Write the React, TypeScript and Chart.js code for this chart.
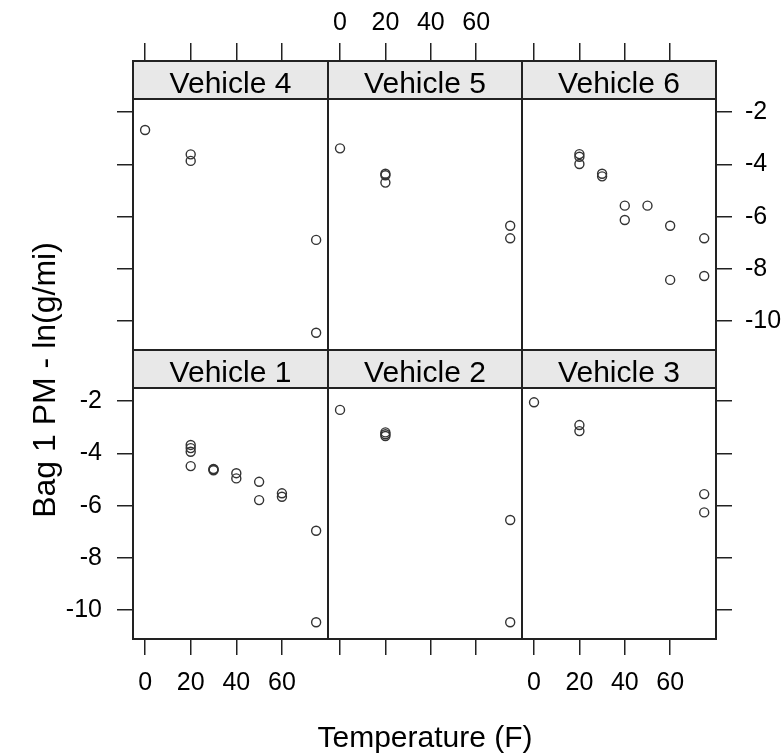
import React, { useEffect, useRef } from 'react';
import { Chart, registerables } from 'chart.js';
Chart.register(...registerables);

// ---- data (Temperature in F, Bag 1 PM in ln(g/mi)) ----
const V1_TEMP = [20, 20, 20, 20, 30, 30, 30, 40, 40, 50, 50, 60, 60, 75, 75];
const V1_PM = [-3.68, -3.8, -3.94, -4.49, -4.6, -4.62, -4.65, -4.76, -4.96, -5.09, -5.79, -5.53, -5.66, -6.96, -10.46];

const V2_TEMP = [0, 20, 20, 20, 75, 75];
const V2_PM = [-2.34, -3.2, -3.27, -3.34, -6.55, -10.46];

const V3_TEMP = [0, 20, 20, 75, 75];
const V3_PM = [-2.05, -2.92, -3.15, -5.56, -6.26];

const V4_TEMP = [0, 20, 20, 75, 75];
const V4_PM = [-2.69, -3.62, -3.87, -6.89, -10.44];

const V5_TEMP = [0, 20, 20, 20, 75, 75];
const V5_PM = [-3.39, -4.36, -4.42, -4.7, -6.35, -6.83];

const V6_TEMP = [20, 20, 20, 30, 30, 40, 40, 50, 60, 60, 75, 75];
const V6_PM = [-3.61, -3.71, -3.99, -4.36, -4.46, -5.58, -6.13, -5.58, -6.35, -8.42, -6.83, -8.27];

const X_TICKS = [0, 20, 40, 60];
const Y_TICKS = [-2, -4, -6, -8, -10];
const X_MIN = -5.3;
const X_MAX = 80.2;
const Y_MIN = -11.1;
const Y_MAX = -0.05;

const X_TITLE = 'Temperature (F)';
const Y_TITLE = 'Bag 1 PM - ln(g/mi)';

// ---- layout ----
const W = 782;
const H = 755;
const COL_EDGES = [133, 328, 522, 716];
const ROW_EDGES = [[61, 350], [350, 639]];
const STRIP_H = 38;
const AX_LEFT = 110;
const AX_RIGHT = 66;
const AX_TOP = 61;
const AX_BOTTOM = 70;
const FONT = "'Liberation Sans', Arial, Helvetica, sans-serif";
const INK = '#222';

const PANELS = [
  { name: 'Vehicle 4', temps: V4_TEMP, pm: V4_PM, row: 0, col: 0 },
  { name: 'Vehicle 5', temps: V5_TEMP, pm: V5_PM, row: 0, col: 1 },
  { name: 'Vehicle 6', temps: V6_TEMP, pm: V6_PM, row: 0, col: 2 },
  { name: 'Vehicle 1', temps: V1_TEMP, pm: V1_PM, row: 1, col: 0 },
  { name: 'Vehicle 2', temps: V2_TEMP, pm: V2_PM, row: 1, col: 1 },
  { name: 'Vehicle 3', temps: V3_TEMP, pm: V3_PM, row: 1, col: 2 },
];

type PanelDef = (typeof PANELS)[number];

function makeChart(canvas: HTMLCanvasElement, p: PanelDef) {
  const left = COL_EDGES[p.col];
  const right = COL_EDGES[p.col + 1];
  const [top, bottom] = ROW_EDGES[p.row];

  const stripPlugin = {
    id: 'stripFrame',
    beforeDatasetsDraw(chart: any) {
      const { ctx, chartArea: a } = chart;
      ctx.save();
      ctx.fillStyle = '#e8e8e8';
      ctx.fillRect(a.left, a.top, a.right - a.left, STRIP_H);
      ctx.strokeStyle = INK;
      ctx.lineWidth = 2;
      ctx.beginPath();
      ctx.moveTo(a.left, a.top + STRIP_H);
      ctx.lineTo(a.right, a.top + STRIP_H);
      ctx.stroke();
      ctx.strokeRect(a.left, a.top, a.right - a.left, a.bottom - a.top);
      ctx.fillStyle = '#000';
      ctx.font = `30px ${FONT}`;
      ctx.textAlign = 'center';
      ctx.textBaseline = 'alphabetic';
      ctx.fillText(p.name, (a.left + a.right) / 2, a.top + 32);
      ctx.restore();
    },
  };

  const tickFont = { family: FONT, size: 25 };
  const gridOpts = (show: boolean, len: number) => ({
    display: show,
    drawOnChartArea: false,
    drawTicks: true,
    tickLength: len,
    color: INK,
    lineWidth: 1.5,
  });
  const xBuild = (s: any) => {
    s.ticks = X_TICKS.map((v) => ({ value: v }));
  };
  const yBuild = (s: any) => {
    s.ticks = Y_TICKS.map((v) => ({ value: v }));
  };

  return new Chart(canvas, {
    type: 'scatter',
    data: {
      datasets: [
        {
          data: p.temps.map((t, i) => ({ x: t, y: p.pm[i] })),
          showLine: false,
          pointStyle: 'circle',
          pointRadius: 4.5,
          pointBorderWidth: 1.4,
          pointBackgroundColor: 'rgba(0,0,0,0)',
          pointBorderColor: '#333',
        },
      ],
    },
    options: {
      responsive: false,
      animation: false,
      devicePixelRatio: 1,
      layout: {
        autoPadding: false,
        padding: {
          left: left - AX_LEFT,
          right: W - right - AX_RIGHT,
          top: top - AX_TOP,
          bottom: H - bottom - AX_BOTTOM,
        },
      },
      plugins: {
        legend: { display: false },
        tooltip: { enabled: false },
        title: { display: false },
      },
      scales: {
        x: {
          type: 'linear',
          position: 'bottom',
          min: X_MIN,
          max: X_MAX,
          afterBuildTicks: xBuild,
          afterFit: (s: any) => {
            s.height = AX_BOTTOM;
          },
          grid: gridOpts(p.row === 1, 16),
          border: { display: false },
          ticks: {
            display: p.row === 1 && p.col !== 1,
            padding: 13,
            color: '#000',
            font: tickFont,
            maxRotation: 0,
            autoSkip: false,
          },
        },
        x2: {
          type: 'linear',
          position: 'top',
          min: X_MIN,
          max: X_MAX,
          afterBuildTicks: xBuild,
          afterFit: (s: any) => {
            s.height = AX_TOP;
          },
          grid: gridOpts(p.row === 0, 18),
          border: { display: false },
          ticks: {
            display: p.row === 0 && p.col === 1,
            padding: 5,
            color: '#000',
            font: tickFont,
            maxRotation: 0,
            autoSkip: false,
          },
        },
        y: {
          type: 'linear',
          position: 'left',
          min: Y_MIN,
          max: Y_MAX,
          afterBuildTicks: yBuild,
          afterFit: (s: any) => {
            s.width = AX_LEFT;
          },
          grid: gridOpts(p.col === 0, 16),
          border: { display: false },
          ticks: {
            display: p.col === 0 && p.row === 1,
            padding: 15,
            color: '#000',
            font: tickFont,
            autoSkip: false,
          },
        },
        y2: {
          type: 'linear',
          position: 'right',
          min: Y_MIN,
          max: Y_MAX,
          afterBuildTicks: yBuild,
          afterFit: (s: any) => {
            s.width = AX_RIGHT;
          },
          grid: gridOpts(p.col === 2, 16),
          border: { display: false },
          ticks: {
            display: p.col === 2 && p.row === 0,
            padding: 13,
            color: '#000',
            font: tickFont,
            autoSkip: false,
          },
        },
      },
    } as any,
    plugins: [stripPlugin],
  });
}

export default function App() {
  const refs = useRef<(HTMLCanvasElement | null)[]>([]);

  useEffect(() => {
    const charts = PANELS.map((p, i) => makeChart(refs.current[i] as HTMLCanvasElement, p));
    return () => charts.forEach((c) => c.destroy());
  }, []);

  return (
    <div
      style={{
        position: 'absolute',
        left: 0,
        top: 0,
        width: W,
        height: H,
        background: '#fff',
        overflow: 'hidden',
        fontFamily: FONT,
      }}
    >
      {PANELS.map((p, i) => (
        <canvas
          key={p.name}
          ref={(el) => {
            refs.current[i] = el;
          }}
          width={W}
          height={H}
          style={{ position: 'absolute', left: 0, top: 0 }}
        />
      ))}
      <div
        style={{
          position: 'absolute',
          left: 225,
          width: 400,
          top: 722,
          height: 30,
          lineHeight: '30px',
          fontSize: 30,
          textAlign: 'center',
          color: '#000',
          whiteSpace: 'nowrap',
        }}
      >
        {X_TITLE}
      </div>
      <div
        style={{
          position: 'absolute',
          left: 44 - 200,
          top: 380 - 16,
          width: 400,
          height: 32,
          lineHeight: '32px',
          fontSize: 32,
          textAlign: 'center',
          color: '#000',
          whiteSpace: 'nowrap',
          transform: 'rotate(-90deg)',
          transformOrigin: '50% 50%',
        }}
      >
        {Y_TITLE}
      </div>
    </div>
  );
}
